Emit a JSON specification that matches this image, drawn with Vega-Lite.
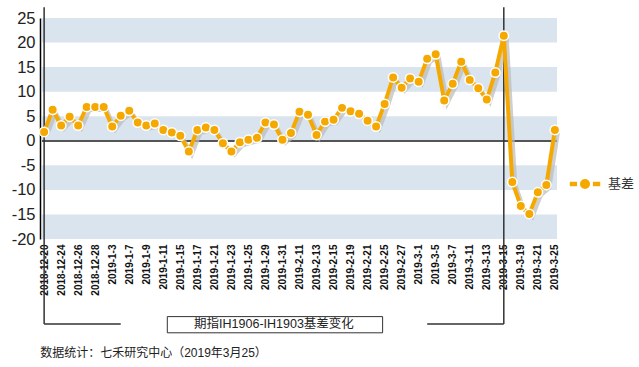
{
  "$schema": "https://vega.github.io/schema/vega-lite/v6.json",
  "autosize": "none",
  "width": 515,
  "height": 221,
  "padding": {"left": 42, "top": 18, "right": 82, "bottom": 128},
  "background": "white",
  "config": {
    "font": "Liberation Sans, Noto Sans CJK SC",
    "view": {"stroke": null},
    "axis": {"grid": false},
    "axisY": {
      "title": null, "tickCount": 9, "ticks": false, "domainColor": "#000", "domainWidth": 1.5,
      "offset": 2, "labelFontSize": 16.5, "labelColor": "#222", "labelPadding": 5,
      "labelOverlap": false, "labelBound": false, "labelFlush": false,
      "labelExpr": "'' + datum.value"
    }
  },
  "datasets": {
    "series": [
      {"d": "2018-12-20", "v": 1.8}, {"d": "2018-12-21", "v": 6.3}, {"d": "2018-12-24", "v": 3.1},
      {"d": "2018-12-25", "v": 4.9}, {"d": "2018-12-26", "v": 3.1}, {"d": "2018-12-27", "v": 6.9},
      {"d": "2018-12-28", "v": 6.9}, {"d": "2019-01-02", "v": 6.9}, {"d": "2019-01-03", "v": 2.9},
      {"d": "2019-01-04", "v": 5.1}, {"d": "2019-01-07", "v": 6.1}, {"d": "2019-01-08", "v": 3.7},
      {"d": "2019-01-09", "v": 3.1}, {"d": "2019-01-10", "v": 3.5}, {"d": "2019-01-11", "v": 2.2},
      {"d": "2019-01-14", "v": 1.7}, {"d": "2019-01-15", "v": 1.0}, {"d": "2019-01-16", "v": -2.2},
      {"d": "2019-01-17", "v": 2.2}, {"d": "2019-01-18", "v": 2.7}, {"d": "2019-01-21", "v": 2.2},
      {"d": "2019-01-22", "v": -0.5}, {"d": "2019-01-23", "v": -2.2}, {"d": "2019-01-24", "v": -0.3},
      {"d": "2019-01-25", "v": 0.2}, {"d": "2019-01-28", "v": 0.6}, {"d": "2019-01-29", "v": 3.7},
      {"d": "2019-01-30", "v": 3.3}, {"d": "2019-01-31", "v": 0.2}, {"d": "2019-02-01", "v": 1.6},
      {"d": "2019-02-11", "v": 5.9}, {"d": "2019-02-12", "v": 5.3}, {"d": "2019-02-13", "v": 1.2},
      {"d": "2019-02-14", "v": 3.9}, {"d": "2019-02-15", "v": 4.3}, {"d": "2019-02-18", "v": 6.7},
      {"d": "2019-02-19", "v": 6.0}, {"d": "2019-02-20", "v": 5.5}, {"d": "2019-02-21", "v": 4.1},
      {"d": "2019-02-22", "v": 2.9}, {"d": "2019-02-25", "v": 7.5}, {"d": "2019-02-26", "v": 12.9},
      {"d": "2019-02-27", "v": 10.8}, {"d": "2019-02-28", "v": 12.7}, {"d": "2019-03-01", "v": 12.0},
      {"d": "2019-03-04", "v": 16.7}, {"d": "2019-03-05", "v": 17.6}, {"d": "2019-03-06", "v": 8.2},
      {"d": "2019-03-07", "v": 11.6}, {"d": "2019-03-08", "v": 16.1}, {"d": "2019-03-11", "v": 12.4},
      {"d": "2019-03-12", "v": 10.7}, {"d": "2019-03-13", "v": 8.4}, {"d": "2019-03-14", "v": 13.9},
      {"d": "2019-03-15", "v": 21.4}, {"d": "2019-03-18", "v": -8.4}, {"d": "2019-03-19", "v": -13.3},
      {"d": "2019-03-20", "v": -14.9}, {"d": "2019-03-21", "v": -10.5}, {"d": "2019-03-22", "v": -9.0},
      {"d": "2019-03-25", "v": 2.2}
    ],
    "bands": [
      {"lo": 20, "hi": 25}, {"lo": 10, "hi": 15}, {"lo": 0, "hi": 5},
      {"lo": -10, "hi": -5}, {"lo": -20, "hi": -15}
    ],
    "brackets": [
      {"d": "2018-12-20", "d2": "2018-12-20", "y": 27.2, "y2": -37.3},
      {"d": "2018-12-20", "d2": "2019-01-04", "y": -37.3, "y2": -37.3},
      {"d": "2019-03-15", "d2": "2019-03-15", "y": 27.2, "y2": -37.3},
      {"d": "2019-03-04", "d2": "2019-03-15", "y": -37.3, "y2": -37.3}
    ],
    "box": [
      {"d": "2019-01-11", "d2": "2019-02-25", "y": -35.8, "y2": -39.1}
    ],
    "boxText": [
      {"d": "2019-01-30", "y": -37.4, "t": "期指IH1906-IH1903基差变化"}
    ],
    "footer": [
      {"d": "2018-12-20", "y": -43.2, "t": "数据统计：七禾研究中心（2019年3月25）"}
    ]
  },
  "encoding": {
    "x": {
      "field": "d", "type": "ordinal",
      "scale": {"type": "point", "padding": 0.25},
      "axis": {
        "title": null, "domain": false, "ticks": false, "labelAngle": -90,
        "labelFontWeight": "bold", "labelFontSize": 10, "labelColor": "#111",
        "labelPadding": 5, "labelOverlap": false,
        "labelExpr": "replace(datum.label, /-0/g, '-')",
        "values": ["2018-12-20","2018-12-24","2018-12-26","2018-12-28","2019-01-03","2019-01-07","2019-01-09","2019-01-11","2019-01-15","2019-01-17","2019-01-21","2019-01-23","2019-01-25","2019-01-29","2019-01-31","2019-02-11","2019-02-13","2019-02-15","2019-02-19","2019-02-21","2019-02-25","2019-02-27","2019-03-01","2019-03-05","2019-03-07","2019-03-11","2019-03-13","2019-03-15","2019-03-19","2019-03-21","2019-03-25"]
      }
    }
  },
  "layer": [
    {
      "data": {"name": "bands"},
      "mark": {"type": "rect", "color": "#dae4ef"},
      "encoding": {
        "x": null,
        "y": {"field": "hi", "type": "quantitative",
              "scale": {"domain": [-20, 25], "nice": false, "zero": false}},
        "y2": {"field": "lo"}
      }
    },
    {
      "data": {"name": "series"},
      "mark": {"type": "rule", "color": "#555", "strokeWidth": 1.5},
      "encoding": {"x": null, "y": {"datum": 0, "type": "quantitative"}}
    },
    {
      "data": {"name": "brackets"},
      "mark": {"type": "rule", "color": "#333", "strokeWidth": 1.5},
      "encoding": {
        "x2": {"field": "d2"},
        "y": {"field": "y", "type": "quantitative"},
        "y2": {"field": "y2"}
      }
    },
    {
      "data": {"name": "series"},
      "mark": {"type": "line", "color": "#bbbbbb", "strokeWidth": 4, "opacity": 0.7, "xOffset": 3, "yOffset": 3},
      "encoding": {"y": {"field": "v", "type": "quantitative"}}
    },
    {
      "data": {"name": "series"},
      "mark": {"type": "line", "color": "#f5a800", "strokeWidth": 4},
      "encoding": {"y": {"field": "v", "type": "quantitative"}}
    },
    {
      "data": {"name": "series"},
      "mark": {"type": "point", "filled": true, "size": 90, "stroke": "white", "strokeWidth": 1.5, "opacity": 1},
      "encoding": {
        "y": {"field": "v", "type": "quantitative"},
        "color": {
          "datum": "基差",
          "scale": {"range": ["#f5a800"]},
          "legend": {
            "title": null, "orient": "none", "legendX": 526, "legendY": 149,
            "symbolType": "M -1 -0.19 L -0.45 -0.19 L -0.45 0.19 L -1 0.19 Z M -0.36 0 A 0.36 0.36 0 1 0 0.36 0 A 0.36 0.36 0 1 0 -0.36 0 Z M 0.45 -0.19 L 1 -0.19 L 1 0.19 L 0.45 0.19 Z",
            "symbolSize": 1024, "labelFontSize": 13, "labelColor": "#333",
            "labelFont": "Noto Sans CJK SC", "labelOffset": 6,
            "encode": {"symbols": {"update": {"fill": {"value": "#f5a800"}, "strokeWidth": {"value": 0}, "opacity": {"value": 1}}}}
          }
        }
      }
    },
    {
      "data": {"name": "box"},
      "mark": {"type": "rect", "fill": "white", "stroke": "#333", "strokeWidth": 1, "xOffset": 4, "x2Offset": -2},
      "encoding": {
        "x2": {"field": "d2"},
        "y": {"field": "y", "type": "quantitative"},
        "y2": {"field": "y2"}
      }
    },
    {
      "data": {"name": "boxText"},
      "mark": {"type": "text", "fontSize": 12.5, "color": "#222", "baseline": "middle", "align": "center"},
      "encoding": {
        "y": {"field": "y", "type": "quantitative"},
        "text": {"field": "t"}
      }
    },
    {
      "data": {"name": "footer"},
      "mark": {"type": "text", "fontSize": 12, "color": "#222", "baseline": "middle", "align": "left", "dx": -4},
      "encoding": {
        "y": {"field": "y", "type": "quantitative"},
        "text": {"field": "t"}
      }
    }
  ]
}
